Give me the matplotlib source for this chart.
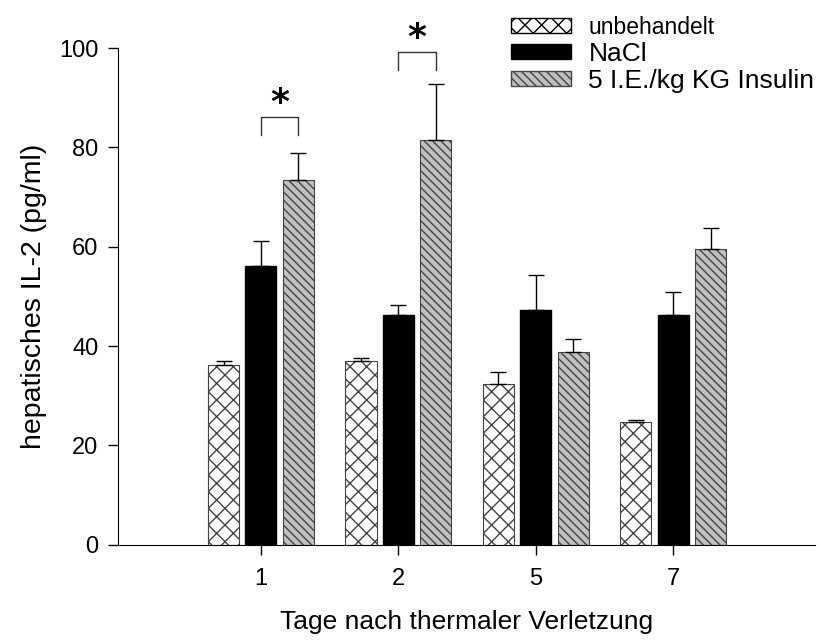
import numpy as np
import matplotlib
matplotlib.use('Agg')
import matplotlib.pyplot as plt
from matplotlib.patches import Patch

plt.rcParams['font.family'] = ['Liberation Sans', 'DejaVu Sans']
plt.rcParams['hatch.linewidth'] = 1.0

# Daten
tage = ['1', '2', '5', '7']
unbehandelt = [36.2, 37.0, 32.3, 24.7]
unbehandelt_err = [0.9, 0.7, 2.5, 0.5]
nacl = [56.1, 46.3, 47.2, 46.3]
nacl_err = [5.1, 1.9, 7.1, 4.5]
insulin = [73.4, 81.5, 38.8, 59.6]
insulin_err = [5.4, 11.2, 2.6, 4.2]
# signifikante Unterschiede NaCl vs Insulin (Index der Tage, Hoehe der Klammer)
signifikant = [0, 1]
klammer_hoehe = [86.1, 99.2]

x = np.arange(len(tage))
w = 0.226
step = 0.272

fig = plt.figure(figsize=(8.19, 6.41), dpi=100)
ax = fig.add_axes([0.144, 0.150, 0.851, 0.775])

err_kw = dict(ecolor='black', elinewidth=1.0, capsize=5.5, capthick=1.0)
ax.bar(x - step, unbehandelt, w, yerr=[np.zeros(4), unbehandelt_err],
       color='white', edgecolor='#444444', hatch='xx', linewidth=0.8,
       error_kw=err_kw, label='unbehandelt')
ax.bar(x, nacl, w, yerr=[np.zeros(4), nacl_err],
       color='black', edgecolor='black', error_kw=err_kw, label='NaCl')
ax.bar(x + step, insulin, w, yerr=[np.zeros(4), insulin_err],
       color='#c0c0c0', edgecolor='#444444', hatch='\\\\\\\\', linewidth=0.8,
       error_kw=err_kw, label='5 I.E./kg KG Insulin')

# Signifikanzklammern
for i, h in zip(signifikant, klammer_hoehe):
    ax.plot([x[i], x[i], x[i] + step, x[i] + step], [h - 3.6, h, h, h - 3.6],
            color='#333333', lw=1.0, clip_on=False)
    ax.text(x[i] + step / 2, h - 0.6, '*', ha='center', va='bottom',
            fontsize=26, fontweight='bold', family='DejaVu Sans', clip_on=False)

ax.set_xlim(-1.04, 4.03)
ax.set_ylim(0, 100)
ax.set_xticks(x)
ax.set_xticklabels(tage)
ax.set_yticks([0, 20, 40, 60, 80, 100])
ax.tick_params(direction='out', length=7, width=1, labelsize=17)
ax.tick_params(axis='x', pad=10)
ax.tick_params(axis='y', pad=7)
ax.spines['top'].set_visible(False)
ax.spines['right'].set_visible(False)
ax.set_xlabel('Tage nach thermaler Verletzung', fontsize=19, labelpad=14)
ax.set_ylabel('hepatisches IL-2 (pg/ml)', fontsize=20.5, labelpad=9)

handles = [Patch(facecolor='white', edgecolor='black', hatch='xx'),
           Patch(facecolor='black', edgecolor='black'),
           Patch(facecolor='#c0c0c0', edgecolor='#444444', hatch='\\\\\\\\')]
leg = ax.legend(handles, ['unbehandelt', 'NaCl', '5 I.E./kg KG Insulin'],
                loc='upper left', bbox_to_anchor=(0.549, 1.085), frameon=False,
                fontsize=19, handlelength=2.25, handleheight=0.5,
                labelspacing=0.1, handletextpad=0.68, borderaxespad=0)
leg.get_texts()[0].set_fontsize(16.5)

fig.savefig('out.png', dpi=100)
